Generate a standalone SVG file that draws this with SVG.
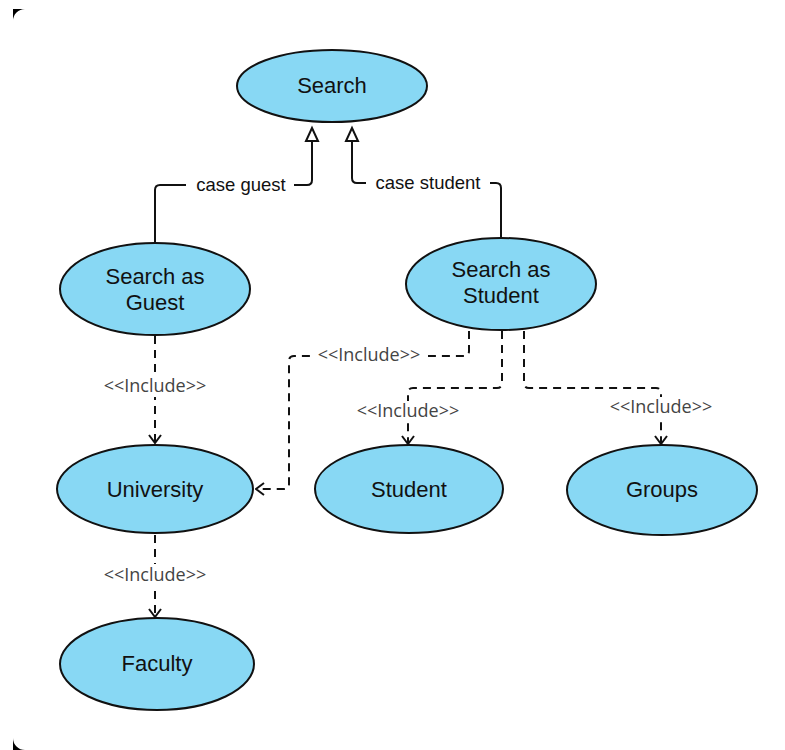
<svg xmlns="http://www.w3.org/2000/svg" width="785" height="750" viewBox="0 0 785 750">
<defs>
<style>
.node ellipse{fill:#88D8F4;stroke:#111;stroke-width:2}
.node text{font-family:"Liberation Sans",Arial,sans-serif;font-size:22px;fill:#111;text-anchor:middle}
.gen{fill:none;stroke:#111;stroke-width:2}
.inc{fill:none;stroke:#111;stroke-width:2;stroke-dasharray:8 6}
.lbl{font-family:"Liberation Sans",Arial,sans-serif;font-size:18.5px;fill:#111;text-anchor:middle}
.ilbl{font-family:"Open Sans","Liberation Sans",sans-serif;font-size:18px;fill:#444;text-anchor:middle}
.bg{fill:#fff}
</style>
<marker id="open" viewBox="0 0 10 14" refX="9" refY="7" markerWidth="10" markerHeight="14" markerUnits="userSpaceOnUse" orient="auto">
<path d="M1,1 L9,7 L1,13" fill="none" stroke="#111" stroke-width="2"/>
</marker>
</defs>
<rect width="785" height="750" fill="#fff"/>
<path d="M13,9 H25 A12,12 0 0 0 13,21 Z" fill="#000"/>
<path d="M13,738 A12,12 0 0 0 25,750 H13 Z" fill="#000"/>

<g id="connectors">
<path class="gen" d="M155,243 V190 Q155,185 160,185 H307 Q312,185 312,180 V140"/>
<path d="M312,128 L318,141 L306,141 Z" fill="#fff" stroke="#111" stroke-width="2"/>
<path class="gen" d="M501,238 V188 Q501,183 496,183 H357 Q352,183 352,178 V140"/>
<path d="M352,128 L358,141 L346,141 Z" fill="#fff" stroke="#111" stroke-width="2"/>
<rect class="bg" x="186" y="172" width="108" height="24"/>
<text class="lbl" x="241" y="191">case guest</text>
<rect class="bg" x="366" y="170" width="124" height="24"/>
<text class="lbl" x="428" y="189">case student</text>

<path class="inc" d="M155,336 V443" marker-end="url(#open)"/>
<rect class="bg" x="96" y="375" width="118" height="22"/>
<text class="ilbl" x="155" y="392">&lt;&lt;Include&gt;&gt;</text>

<path class="inc" d="M469,331 V351 Q469,356 464,356 H294 Q289,356 289,361 V484 Q289,489 284,489 H256" marker-end="url(#open)"/>
<rect class="bg" x="310" y="345" width="118" height="22"/>
<text class="ilbl" x="369" y="361">&lt;&lt;Include&gt;&gt;</text>

<path class="inc" d="M502,331 V383 Q502,388 497,388 H413 Q408,388 408,393 V444" marker-end="url(#open)"/>
<rect class="bg" x="349" y="401" width="118" height="22"/>
<text class="ilbl" x="408" y="417">&lt;&lt;Include&gt;&gt;</text>

<path class="inc" d="M524,331 V383 Q524,388 529,388 H656 Q661,388 661,393 V444" marker-end="url(#open)"/>
<rect class="bg" x="602" y="397" width="118" height="22"/>
<text class="ilbl" x="661" y="413">&lt;&lt;Include&gt;&gt;</text>

<path class="inc" d="M155,535 V617" marker-end="url(#open)"/>
<rect class="bg" x="96" y="564" width="118" height="22"/>
<text class="ilbl" x="155" y="581">&lt;&lt;Include&gt;&gt;</text>
</g>

<g id="search" class="node"><ellipse cx="332" cy="86" rx="95" ry="36"/><text x="332" y="93">Search</text></g>
<g id="search-guest" class="node"><ellipse cx="155" cy="289" rx="95" ry="46"/><text x="155" y="284">Search as</text><text x="155" y="310">Guest</text></g>
<g id="search-student" class="node"><ellipse cx="501" cy="284" rx="95" ry="46"/><text x="501" y="277">Search as</text><text x="501" y="303">Student</text></g>
<g id="university" class="node"><ellipse cx="155" cy="489" rx="98" ry="44"/><text x="155" y="497">University</text></g>
<g id="student" class="node"><ellipse cx="409" cy="489" rx="94" ry="44"/><text x="409" y="497">Student</text></g>
<g id="groups" class="node"><ellipse cx="662" cy="490" rx="95" ry="45"/><text x="662" y="497">Groups</text></g>
<g id="faculty" class="node"><ellipse cx="157" cy="664" rx="97" ry="46"/><text x="157" y="671">Faculty</text></g>
</svg>
